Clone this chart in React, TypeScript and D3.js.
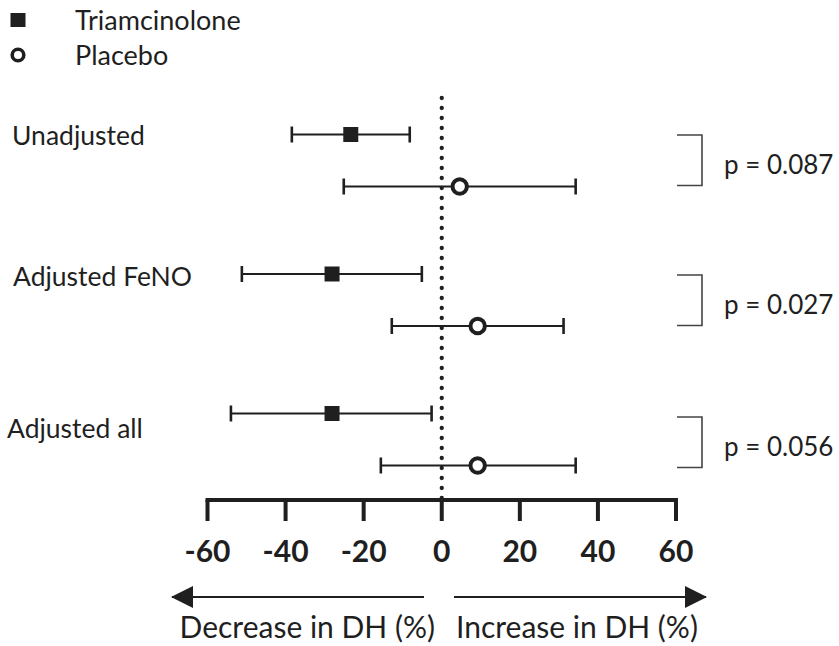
import React from "react";
import * as d3 from "d3";

const groups = ["Unadjusted", "Adjusted FeNO", "Adjusted all"];
const triMean = [-23.3, -28.1, -28.1];
const triLow = [-38.4, -51.2, -54.0];
const triHigh = [-8.2, -5.1, -2.6];
const plaMean = [4.6, 9.2, 9.2];
const plaLow = [-25.1, -12.8, -15.6];
const plaHigh = [34.3, 31.2, 34.3];
const pValues = ["p = 0.087", "p = 0.027", "p = 0.056"];
const ticks = [-60, -40, -20, 0, 20, 40, 60];
const legendItems = ["Triamcinolone", "Placebo"];

const W = 839;
const H = 646;
const FONT = "Lato, 'Open Sans', sans-serif";
const INK = "#1f1f1f";

export default function App() {
  const x = d3.scaleLinear().domain([-60, 60]).range([207.5, 676]);
  const yGroup = d3.scaleLinear().domain([0, 2]).range([134.5, 413.5]);
  const rowGap = 52;
  const axisY = 500;
  const capH = 8;

  const rows = groups.flatMap((g, i) => [
    { kind: "tri", y: yGroup(i), m: triMean[i], lo: triLow[i], hi: triHigh[i] },
    { kind: "pla", y: yGroup(i) + rowGap, m: plaMean[i], lo: plaLow[i], hi: plaHigh[i] },
  ]);

  return (
    <svg width={W} height={H} style={{ position: "absolute", left: 0, top: 0, background: "#fff" }}
      fontFamily={FONT}>
      <defs>
        <marker id="ah" viewBox="0 0 22 22" refX="21" refY="11" markerWidth="22" markerHeight="22"
          markerUnits="userSpaceOnUse" orient="auto-start-reverse">
          <path d="M0,0 L22,11 L0,22 Z" fill={INK} />
        </marker>
      </defs>
      {/* legend */}
      <rect x={10.5} y={13} width={15} height={14} fill={INK} />
      <text x={75} y={30} fontSize={27} fill={INK}>{legendItems[0]}</text>
      <circle cx={18} cy={55} r={5.8} fill="none" stroke={INK} strokeWidth={3.6} />
      <text x={75} y={65} fontSize={27} fill={INK}>{legendItems[1]}</text>

      {/* group labels */}
      {groups.map((g, i) => (
        <text key={g} x={[12, 13, 7][i]} y={yGroup(i) + [10.5, 11.5, 24.5][i]} fontSize={26.5} fill={INK}>{g}</text>
      ))}

      {/* zero dotted line */}
      <line x1={x(0)} x2={x(0)} y1={98} y2={500} stroke={INK} strokeWidth={4.3}
        strokeLinecap="round" strokeDasharray="0 10" />

      {/* error bars */}
      {rows.map((r, i) => (
        <g key={i}>
          <line x1={x(r.lo)} x2={x(r.hi)} y1={r.y} y2={r.y} stroke={INK} strokeWidth={2} />
          <line x1={x(r.lo)} x2={x(r.lo)} y1={r.y - capH} y2={r.y + capH} stroke={INK} strokeWidth={2.6} />
          <line x1={x(r.hi)} x2={x(r.hi)} y1={r.y - capH} y2={r.y + capH} stroke={INK} strokeWidth={2.6} />
          {r.kind === "tri" ? (
            <rect x={x(r.m) - 7.5} y={r.y - 7.5} width={15} height={15} fill={INK} />
          ) : (
            <circle cx={x(r.m)} cy={r.y} r={7.2} fill="#fff" stroke={INK} strokeWidth={4} />
          )}
        </g>
      ))}

      {/* brackets and p values */}
      {groups.map((g, i) => {
        const top = yGroup(i) + [0.5, 1, 3.5][i];
        const bot = top + 50.5;
        return (
          <g key={"b" + i}>
            <path d={`M677,${top} H702 V${bot} H677`} fill="none" stroke="#444" strokeWidth={1.6} />
            <text x={724} y={(top + bot) / 2 + 14} fontSize={26} fill={INK}>{pValues[i]}</text>
          </g>
        );
      })}

      {/* axis */}
      <line x1={x(-60) - 2} x2={x(60) + 2} y1={axisY} y2={axisY} stroke={INK} strokeWidth={4} />
      {ticks.map((t) => (
        <g key={t}>
          <line x1={x(t)} x2={x(t)} y1={axisY} y2={axisY + 21} stroke={INK} strokeWidth={4} />
          <text x={x(t)} y={562} fontSize={30} fontWeight="bold" textAnchor="middle" fill={INK}>{t}</text>
        </g>
      ))}

      {/* direction arrows */}
      <line x1={424} x2={172} y1={597} y2={597} stroke={INK} strokeWidth={2} markerEnd="url(#ah)" />
      <line x1={454} x2={706} y1={597} y2={597} stroke={INK} strokeWidth={2} markerEnd="url(#ah)" />
      <text x={435} y={638} fontSize={30} textAnchor="end" fill={INK}>Decrease in DH (%)</text>
      <text x={456} y={638} fontSize={30} fill={INK}>Increase in DH (%)</text>
    </svg>
  );
}
